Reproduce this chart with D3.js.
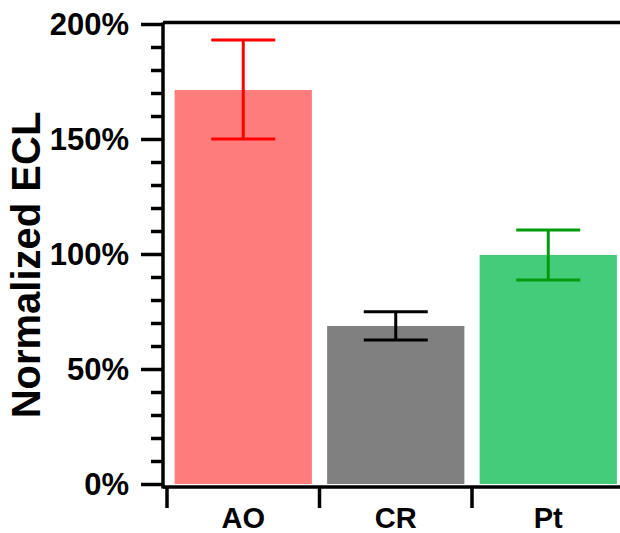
<!DOCTYPE html>
<html>
<head>
<meta charset="utf-8">
<script src="https://cdn.jsdelivr.net/npm/d3@7"></script>
<style>
  body { margin: 0; background: #fff; overflow: hidden; }
  svg { display: block; }
  text { font-family: "Liberation Sans", Arial, sans-serif; font-weight: bold; fill: #000; }
</style>
</head>
<body>
<script>
let categories = ["AO", "CR", "Pt"];
let means = [171.3, 68.7, 99.6];
let lowers = [150, 62.6, 88.7];
let uppers = [193, 74.9, 110.4];
let barColors = ["#fe7c7c", "#808080", "#45cc7b"];
let errColors = ["#ff0000", "#000000", "#009a0c"];
let majorTicks = [0, 50, 100, 150, 200];

let width = 620;
let height = 533;
let left = 163;

let xScale = d3
  .scaleBand()
  .domain(categories)
  .range([167, 624.5])
  .paddingInner(0.1)
  .paddingOuter(0.05);
let yScale = d3.scaleLinear().domain([0, 200]).range([484, 24]);

let svg = d3
  .select("body")
  .append("svg")
  .attr("width", width)
  .attr("height", height);

// bars
svg
  .selectAll("rect.bar")
  .data(means)
  .enter()
  .append("rect")
  .attr("class", "bar")
  .attr("x", (d, i) => xScale(categories[i]))
  .attr("y", (d) => yScale(d))
  .attr("width", xScale.bandwidth())
  .attr("height", (d) => yScale(0) - yScale(d))
  .attr("fill", (d, i) => barColors[i]);

// error bars
let capW = 64;
let err = svg
  .selectAll("g.err")
  .data(categories)
  .enter()
  .append("g")
  .attr("class", "err")
  .attr("stroke", (d, i) => errColors[i])
  .attr("stroke-width", 3);
err
  .append("line")
  .attr("x1", (d) => xScale(d) + xScale.bandwidth() / 2)
  .attr("x2", (d) => xScale(d) + xScale.bandwidth() / 2)
  .attr("y1", (d, i) => yScale(uppers[i]))
  .attr("y2", (d, i) => yScale(lowers[i]));
err
  .append("line")
  .attr("x1", (d) => xScale(d) + xScale.bandwidth() / 2 - capW / 2)
  .attr("x2", (d) => xScale(d) + xScale.bandwidth() / 2 + capW / 2)
  .attr("y1", (d, i) => yScale(uppers[i]))
  .attr("y2", (d, i) => yScale(uppers[i]));
err
  .append("line")
  .attr("x1", (d) => xScale(d) + xScale.bandwidth() / 2 - capW / 2)
  .attr("x2", (d) => xScale(d) + xScale.bandwidth() / 2 + capW / 2)
  .attr("y1", (d, i) => yScale(lowers[i]))
  .attr("y2", (d, i) => yScale(lowers[i]));

// y axis with minor ticks
let yAxis = d3
  .axisLeft(yScale)
  .tickValues(d3.range(0, 201, 10))
  .tickSize(12)
  .tickFormat("");
let gy = svg
  .append("g")
  .attr("transform", `translate(${left},0)`)
  .call(yAxis);
gy.selectAll(".tick line")
  .filter((d) => majorTicks.includes(d))
  .attr("x2", -22);
gy.selectAll(".tick line").attr("stroke", "#000").attr("stroke-width", 3.5);
gy.select(".domain").remove();
svg
  .append("line")
  .attr("x1", left)
  .attr("x2", left)
  .attr("y1", yScale(200) - 1.5)
  .attr("y2", yScale(0) + 4.5)
  .attr("stroke", "#000")
  .attr("stroke-width", 3.5);

svg
  .selectAll("text.ytick")
  .data(majorTicks)
  .enter()
  .append("text")
  .attr("class", "ytick")
  .attr("x", 129)
  .attr("y", (d) => yScale(d) + 11)
  .attr("text-anchor", "end")
  .attr("font-size", 31)
  .text((d) => d + "%");

// top border
svg
  .append("line")
  .attr("x1", left)
  .attr("x2", width)
  .attr("y1", yScale(200) - 1.5)
  .attr("y2", yScale(200) - 1.5)
  .attr("stroke", "#000")
  .attr("stroke-width", 3.5);

// x axis
let xBase = yScale(0) + 3;
svg
  .append("line")
  .attr("x1", left)
  .attr("x2", width)
  .attr("y1", xBase)
  .attr("y2", xBase)
  .attr("stroke", "#000")
  .attr("stroke-width", 3.5);
svg
  .selectAll("line.xtick")
  .data(categories)
  .enter()
  .append("line")
  .attr("class", "xtick")
  .attr("x1", (d) => xScale(d) - xScale.step() * 0.05)
  .attr("x2", (d) => xScale(d) - xScale.step() * 0.05)
  .attr("y1", xBase)
  .attr("y2", xBase + 21)
  .attr("stroke", "#000")
  .attr("stroke-width", 3.5);
svg
  .selectAll("text.xlab")
  .data(categories)
  .enter()
  .append("text")
  .attr("class", "xlab")
  .attr("x", (d) => xScale(d) + xScale.bandwidth() / 2)
  .attr("y", 528)
  .attr("text-anchor", "middle")
  .attr("font-size", 29)
  .text((d) => d);

// y label
svg
  .append("text")
  .attr("transform", `translate(40,265) rotate(-90)`)
  .attr("text-anchor", "middle")
  .attr("font-size", 40)
  .text("Normalized ECL");
</script>
</body>
</html>
